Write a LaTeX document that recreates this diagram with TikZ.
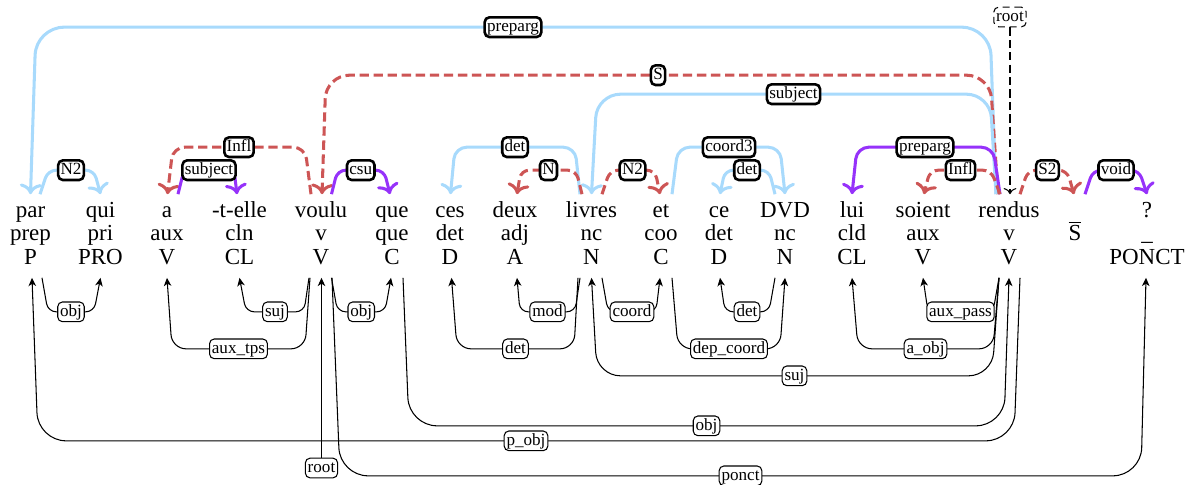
\documentclass[tikz,border=0pt]{standalone}
\usepackage{fontspec}
\setmainfont{Liberation Serif}
\usetikzlibrary{arrows.meta}
\definecolor{corazul}{RGB}{168,218,252}
\definecolor{corvermelho}{RGB}{205,85,85}
\definecolor{corroxo}{RGB}{150,50,250}
\begin{document}
\begin{tikzpicture}[x=0.015cm, y=-0.015cm,
  palavra/.style={align=center, inner xsep=0pt, inner ysep=2.5pt, font=\fontsize{9.8}{10.1}\selectfont},
  rot/.style={draw=black, text=black, solid, fill=white, line width=1.1pt, rounded corners=2pt,
    inner xsep=1pt, inner ysep=0.8pt, text height=5.2pt, text depth=1.6pt, font=\fontsize{7.3}{8}\selectfont},
  rotb/.style={rot, line width=0.45pt}
]
\tikzset{
  cima/.style={->, line width=1.3pt, rounded corners=3.5pt},
  azul/.style={cima, draw=corazul},
  vermelho/.style={cima, draw=corvermelho, dash pattern=on 4pt off 2pt},
  roxo/.style={cima, draw=corroxo},
  preto/.style={-{Stealth[length=3.5pt,width=3.2pt,inset=1pt]}, line width=0.45pt, rounded corners=3.5pt}
}
\useasboundingbox (0,0) rectangle (1195,484);

% palavras
\node[palavra] (par) at (30.5,236) {\strut par\\\strut prep\\\strut P};
\node[palavra] (qui) at (100.5,236) {\strut qui\\\strut pri\\\strut PRO};
\node[palavra] (a) at (167,236) {\strut a\\\strut aux\\\strut V};
\node[palavra] (telle) at (239.5,236) {\strut -t-elle\\\strut cln\\\strut CL};
\node[palavra] (voulu) at (321,236) {\strut voulu\\\strut v\\\strut V};
\node[palavra] (que) at (392,236) {\strut que\\\strut que\\\strut C};
\node[palavra] (ces) at (450,236) {\strut ces\\\strut det\\\strut D};
\node[palavra] (deux) at (515,236) {\strut deux\\\strut adj\\\strut A};
\node[palavra] (livres) at (591.5,236) {\strut livres\\\strut nc\\\strut N};
\node[palavra] (et) at (661,236) {\strut et\\\strut coo\\\strut C};
\node[palavra] (ce) at (719,236) {\strut ce\\\strut det\\\strut D};
\node[palavra] (dvd) at (785,236) {\strut DVD\\\strut nc\\\strut N};
\node[palavra] (lui) at (852,236) {\strut lui\\\strut cld\\\strut CL};
\node[palavra] (soient) at (923,236) {\strut soient\\\strut aux\\\strut V};
\node[palavra] (rendus) at (1009,236) {\strut rendus\\\strut v\\\strut V};
\node[palavra] (sbar) at (1075,236) {\strut\\\strut\smash{$\overline{\hbox{S}}$}\\\strut};
\node[palavra] (interr) at (1147,236) {\strut ?\\\strut\_\\\strut PONCT};

% arcos de cima
\draw[azul, rounded corners=12pt] ([shift={(-13,0)}]rendus.north) -- ([shift={(-19,-167)}]rendus.north)
  -- node[rot]{preparg} ([shift={(5.5,-167)}]par.north) -- (par.north);
\draw[vermelho, rounded corners=10pt] ([shift={(-11,0)}]rendus.north) -- ([shift={(-19,-119)}]rendus.north)
  -- node[rot]{S} ([shift={(5,-119)}]voulu.north) -- ([shift={(1,0)}]voulu.north);
\draw[azul, rounded corners=10pt] ([shift={(-13,0)}]rendus.north) -- ([shift={(-19,-100)}]rendus.north)
  -- node[rot]{subject} ([shift={(5.5,-100)}]livres.north) -- (livres.north);
\draw[azul] ([shift={(9.5,0)}]par.north) -- ([shift={(17.5,-24)}]par.north)
  -- node[rot]{N2} ([shift={(-6.5,-24)}]qui.north) -- (qui.north);
\draw[vermelho, rounded corners=5pt] ([shift={(-10,0)}]voulu.north) -- ([shift={(-16,-47)}]voulu.north)
  -- node[rot]{Infl} ([shift={(6,-47)}]a.north) -- ([shift={(0.5,0)}]a.north);
\draw[roxo] ([shift={(11,0)}]a.north) -- ([shift={(17,-24)}]a.north)
  -- node[rot]{subject} ([shift={(-5.5,-24)}]telle.north) -- ([shift={(-2.5,0)}]telle.north);
\draw[roxo] ([shift={(10.5,0)}]voulu.north) -- ([shift={(16.5,-24)}]voulu.north)
  -- node[rot]{csu} ([shift={(-8,-24)}]que.north) -- ([shift={(-2,0)}]que.north);
\draw[azul, rounded corners=5pt] ([shift={(-11.5,0)}]livres.north) -- ([shift={(-16.5,-47)}]livres.north)
  -- node[rot]{det} ([shift={(5,-47)}]ces.north) -- ([shift={(0.5,0)}]ces.north);
\draw[vermelho] ([shift={(-9.5,0)}]livres.north) -- ([shift={(-15.5,-24)}]livres.north)
  -- node[rot]{N} ([shift={(6,-24)}]deux.north) -- ([shift={(2,0)}]deux.north);
\draw[vermelho] ([shift={(10.5,0)}]livres.north) -- ([shift={(18.5,-24)}]livres.north)
  -- node[rot]{N2} ([shift={(-6,-24)}]et.north) -- ([shift={(-1,0)}]et.north);
\draw[azul, rounded corners=5pt] ([shift={(11,0)}]et.north) -- ([shift={(17,-47)}]et.north)
  -- node[rot]{coord3} ([shift={(-5,-47)}]dvd.north) -- (dvd.north);
\draw[azul] ([shift={(-10,0)}]dvd.north) -- ([shift={(-16,-24)}]dvd.north)
  -- node[rot]{det} ([shift={(6,-24)}]ce.north) -- ([shift={(1,0)}]ce.north);
\draw[roxo, rounded corners=5pt] ([shift={(-9,0)}]rendus.north) -- ([shift={(-16,-47)}]rendus.north)
  -- node[rot]{preparg} ([shift={(5,-47)}]lui.north) -- (lui.north);
\draw[vermelho] ([shift={(-9,0)}]rendus.north) -- ([shift={(-18,-24)}]rendus.north)
  -- node[rot]{Infl} ([shift={(7,-24)}]soient.north) -- ([shift={(1,0)}]soient.north);
\draw[vermelho] ([shift={(11,0)}]rendus.north) -- ([shift={(19,-24)}]rendus.north)
  -- node[rot]{S2} ([shift={(-8,-24)}]sbar.north) -- ([shift={(-1,0)}]sbar.north);
\draw[roxo] ([shift={(10,0)}]sbar.north) -- ([shift={(18,-24)}]sbar.north)
  -- node[rot]{void} ([shift={(-8,-24)}]interr.north) -- (interr.north);

% raiz de cima
\node[rot, line width=0.45pt, dash pattern=on 3pt off 2pt] (raiz) at (1010,17) {root};
\draw[->, line width=0.45pt, dash pattern=on 3.5pt off 1.8pt] (raiz) -- (raiz |- rendus.north);

% arcos de baixo
\draw[preto] ([shift={(11.5,0)}]par.south) -- ([shift={(17.5,34)}]par.south)
  -- node[rotb]{obj} ([shift={(-6.5,34)}]qui.south) -- (qui.south);
\draw[preto, rounded corners=6pt] ([shift={(-11,0)}]voulu.south) -- ([shift={(-16,71)}]voulu.south)
  -- node[rotb]{aux\_tps} ([shift={(5,71)}]a.south) -- (a.south);
\draw[preto] ([shift={(-12,0)}]voulu.south) -- ([shift={(-17,34)}]voulu.south)
  -- node[rotb]{suj} ([shift={(6.5,34)}]telle.south) -- (telle.south);
\draw[preto] ([shift={(10.5,0)}]voulu.south) -- ([shift={(16.5,34)}]voulu.south)
  -- node[rotb]{obj} ([shift={(-7,34)}]que.south) -- ([shift={(-1,0)}]que.south);
\draw[preto, rounded corners=12pt] ([shift={(11,0)}]rendus.south) -- ([shift={(5,163)}]rendus.south)
  -- node[rotb]{p\_obj} ([shift={(7.5,163)}]par.south) -- ([shift={(1.5,0)}]par.south);
\draw[preto, rounded corners=12pt] ([shift={(11,0)}]voulu.south) -- ([shift={(19,198)}]voulu.south)
  -- node[rotb]{ponct} ([shift={(-6,198)}]interr.south) -- ([shift={(-1,0)}]interr.south);
\draw[preto, rounded corners=12pt] ([shift={(11,0)}]que.south) -- ([shift={(17,148)}]que.south)
  -- node[rotb]{obj} ([shift={(-5,148)}]rendus.south) -- (rendus.south);
\draw[preto, rounded corners=10pt] ([shift={(-10,0)}]rendus.south) -- ([shift={(-17,98)}]rendus.south)
  -- node[rotb]{suj} ([shift={(5.5,98)}]livres.south) -- (livres.south);
\draw[preto, rounded corners=6pt] ([shift={(-10,0)}]rendus.south) -- ([shift={(-16,71)}]rendus.south)
  -- node[rotb]{a\_obj} ([shift={(6,71)}]lui.south) -- (lui.south);
\draw[preto, rounded corners=6pt] ([shift={(-13.5,0)}]livres.south) -- ([shift={(-17.5,71)}]livres.south)
  -- node[rotb]{det} ([shift={(7,71)}]ces.south) -- ([shift={(1.5,0)}]ces.south);
\draw[preto] ([shift={(-11.5,0)}]livres.south) -- ([shift={(-16.5,34)}]livres.south)
  -- node[rotb]{mod} ([shift={(5,34)}]deux.south) -- ([shift={(2,0)}]deux.south);
\draw[preto] ([shift={(10.5,0)}]livres.south) -- ([shift={(16.5,34)}]livres.south)
  -- node[rotb]{coord} ([shift={(-5,34)}]et.south) -- ([shift={(-1,0)}]et.south);
\draw[preto, rounded corners=6pt] ([shift={(11,0)}]et.south) -- ([shift={(17,71)}]et.south)
  -- node[rotb]{dep\_coord} ([shift={(-5,71)}]dvd.south) -- (dvd.south);
\draw[preto] ([shift={(-10,0)}]dvd.south) -- ([shift={(-16,34)}]dvd.south)
  -- node[rotb]{det} ([shift={(6,34)}]ce.south) -- ([shift={(1,0)}]ce.south);
\draw[preto] ([shift={(-10,0)}]rendus.south) -- ([shift={(-16,34)}]rendus.south)
  -- node[rotb]{aux\_pass} ([shift={(5,34)}]soient.south) -- (soient.south);

% raiz de baixo
\node[rotb] (raizb) at (321.5,468) {root};
\draw[preto] (raizb) -- (raizb |- voulu.south);
\end{tikzpicture}
\end{document}
